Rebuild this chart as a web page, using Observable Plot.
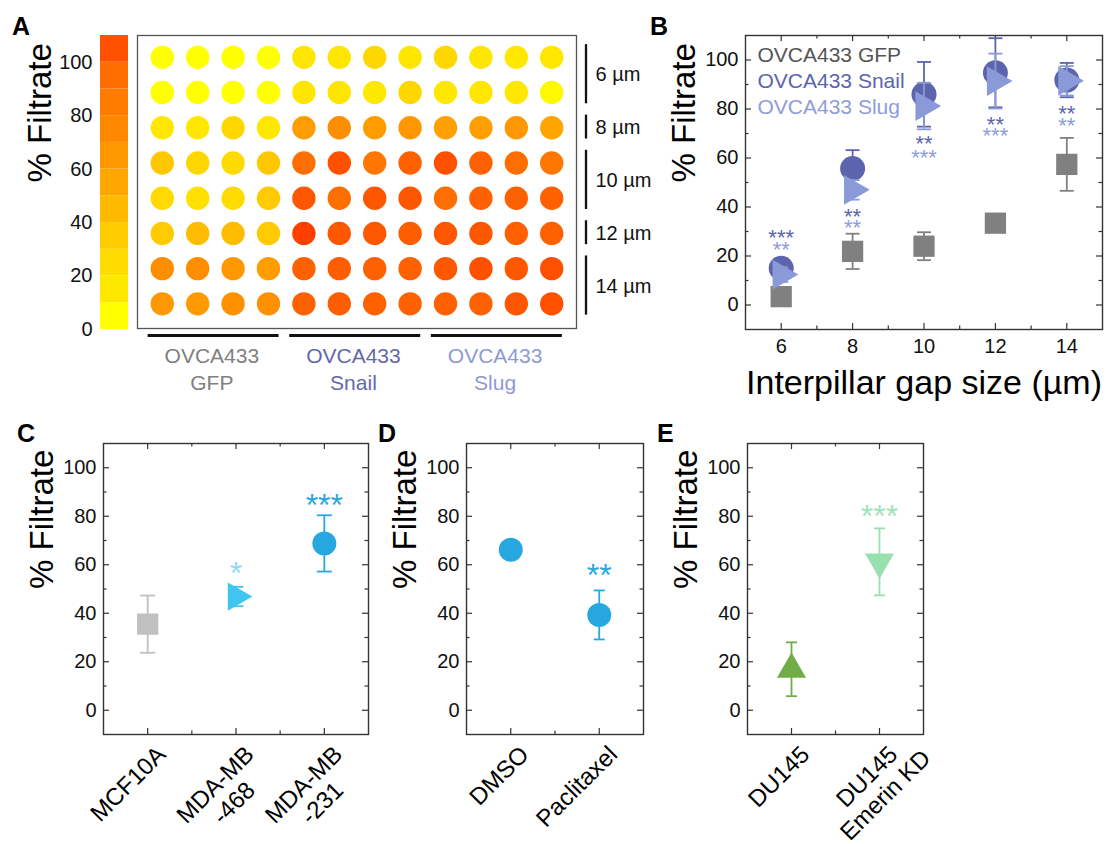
<!DOCTYPE html>
<html><head><meta charset="utf-8">
<script src="https://cdn.jsdelivr.net/npm/d3@7"></script>
<script src="https://cdn.jsdelivr.net/npm/@observablehq/plot@0.6"></script>
<style>
body{margin:0;background:#fff;}
#fig{position:relative;width:1114px;height:844px;overflow:hidden;font-family:"Liberation Sans",Arial,sans-serif;}
#fig > svg{position:absolute;left:0;top:0;}
.plabel{position:absolute;font-weight:bold;font-size:25px;line-height:25px;color:#000;}
</style></head><body><div id="fig"></div>
<script>
// ================= DATA =================
// Panel A – colour bar
const colorbarTicks = [0, 20, 40, 60, 80, 100];
const colorbarBands = [0, 10, 20, 30, 40, 50, 60, 70, 80, 90, 100];
// Panel A – plate (rows top→bottom, 12 wells each: 4 GFP, 4 Snail, 4 Slug), % filtrate
const wellFiltrate = [
  [3, 4, 3, 4, 17, 17, 28, 17, 28, 17, 15, 16],
  [4, 5, 4, 5, 17, 17, 15, 28, 16, 16, 16, 8],
  [16, 16, 28, 16, 62, 72, 62, 65, 60, 60, 65, 56],
  [38, 28, 27, 38, 94, 105, 88, 99, 105, 99, 94, 88],
  [27, 22, 25, 36, 103, 94, 103, 103, 94, 99, 99, 99],
  [36, 44, 44, 36, 111, 103, 102, 100, 103, 103, 99, 99],
  [72, 72, 65, 62, 99, 100, 99, 99, 103, 105, 103, 105],
  [65, 64, 70, 70, 99, 100, 99, 99, 99, 99, 103, 105]
];
const gapGroupLabels = ["6 µm", "8 µm", "10 µm", "12 µm", "14 µm"];
const gapGroupFirstRow = [1, 3, 4, 6, 7];
const gapGroupLastRow = [2, 3, 5, 6, 8];
const plateGroupLabels = ["OVCA433\nGFP", "OVCA433\nSnail", "OVCA433\nSlug"];
const plateGroupFirstCol = [1, 5, 9];
const plateGroupLastCol = [4, 8, 12];

// Panel B
const gapSizes = [6, 8, 10, 12, 14];
const seriesNames = ["OVCA433 GFP", "OVCA433 Snail", "OVCA433 Slug"];
const gfpMean = [3.4, 21.9, 24.0, 33.4, 57.4];
const gfpErr = [2.0, 7.2, 5.7, 3.0, 10.8];
const snailMean = [15.0, 55.7, 86.0, 94.8, 91.8];
const snailErr = [4.0, 7.5, 13.2, 14.1, 7.0];
const slugMean = [12.4, 47.0, 81.2, 91.4, 91.5];
const slugErr = [3.0, 4.0, 9.5, 11.2, 6.0];
const snailStars = ["***", "**", "**", "**", "**"];
const snailStarAt = [29.5, 38.3, 68.0, 76.0, 80.2];
const slugStars = ["**", "**", "***", "***", "**"];
const slugStarAt = [25.0, 33.8, 62.5, 71.3, 75.4];

// Panel C
const cCells = ["MCF10A", "MDA-MB\n-468", "MDA-MB\n-231"];
const cMean = [35.5, 46.9, 68.8];
const cErr = [11.8, 4.0, 11.6];
const cStars = ["", "*", "***"];
const cStarAt = [null, 59.6, 87.7];

// Panel D
const dTreat = ["DMSO", "Paclitaxel"];
const dMean = [66.2, 39.3];
const dErr = [1.5, 10.1];
const dStars = ["", "**"];
const dStarAt = [null, 58.9];

// Panel E
const eCells = ["DU145", "DU145\nEmerin KD"];
const eMean = [16.9, 61.2];
const eErr = [11.1, 13.8];
const eStars = ["", "***"];
const eStarAt = [null, 83.2];

const yMajor = [0, 20, 40, 60, 80, 100];
const yMinor = [10, 30, 50, 70, 90];

// ================= STYLE =================
const FONT = '"Liberation Sans", Arial, Helvetica, sans-serif';
const colorScale = {
  type: "linear",
  domain: [5, 15, 25, 35, 45, 55, 65, 75, 85, 95, 105, 115],
  range: ["#ffff00","#ffe800","#ffdc00","#ffcc00","#ffba00","#ffa600","#ff9800","#ff8800","#ff7c00","#ff6c00","#ff5000","#ff3300"],
  interpolate: "rgb"
};
const fig = document.getElementById("fig");

const capSymbol = {draw(ctx, size) { const w = Math.sqrt(size / Math.PI); ctx.moveTo(-w, 0); ctx.lineTo(w, 0); }};
function tri(dir) {
  return {draw(ctx, size) {
    const h = Math.sqrt(size / (3 * Math.sqrt(3))), s = Math.sqrt(3) * h;
    if (dir === "up") { ctx.moveTo(0, -2*h); ctx.lineTo(s, h); ctx.lineTo(-s, h); }
    else if (dir === "down") { ctx.moveTo(0, 2*h); ctx.lineTo(-s, -h); ctx.lineTo(s, -h); }
    else { ctx.moveTo(2*h, 0); ctx.lineTo(-h, s); ctx.lineTo(-h, -s); }
    ctx.closePath();
  }};
}

function plotAt(frame, opts) {
  const svg = Plot.plot({
    width: 1114, height: 844,
    marginLeft: frame.l, marginRight: 1114 - frame.r, marginTop: frame.t, marginBottom: 844 - frame.b,
    style: {fontFamily: FONT, background: "transparent", color: "#111", overflow: "visible"},
    ...opts
  });
  fig.append(svg);
  return svg;
}

function boxTicks(frame, xMajor, xMinor) {
  const fw = frame.r - frame.l, fh = frame.b - frame.t, L = 6, l = 3.5;
  const st = {stroke: "#333", strokeWidth: 1.2};
  return [
    Plot.tickY(yMajor, {y: d => d, insetRight: fw - L, ...st}),
    Plot.tickY(yMajor, {y: d => d, insetLeft: fw - L, ...st}),
    Plot.tickY(yMinor, {y: d => d, insetRight: fw - l, ...st}),
    Plot.tickY(yMinor, {y: d => d, insetLeft: fw - l, ...st}),
    Plot.tickX(xMajor, {x: d => d, insetTop: fh - L, ...st}),
    Plot.tickX(xMajor, {x: d => d, insetBottom: fh - L, ...st}),
    Plot.tickX(xMinor, {x: d => d, insetTop: fh - l, ...st}),
    Plot.tickX(xMinor, {x: d => d, insetBottom: fh - l, ...st})
  ];
}

function errorMarks(xs, means, errs, color, capR) {
  const pts = xs.map((x, i) => ({x, lo: means[i] - errs[i], hi: means[i] + errs[i]}));
  const st = {stroke: color, strokeWidth: 1.8};
  return [
    Plot.ruleX(pts, {x: "x", y1: "lo", y2: "hi", ...st}),
    Plot.dot(pts, {x: "x", y: "lo", symbol: capSymbol, r: capR, fill: "none", ...st}),
    Plot.dot(pts, {x: "x", y: "hi", symbol: capSymbol, r: capR, fill: "none", ...st})
  ];
}

function markerMarks(xs, means, symbol, r, color) {
  const pts = xs.map((x, i) => ({x, y: means[i]}));
  return Plot.dot(pts, {x: "x", y: "y", symbol, r, fill: color, stroke: "none"});
}

function starMarks(xs, stars, at, color, size) {
  const pts = xs.map((x, i) => ({x, y: at[i], t: stars[i]})).filter(d => d.t);
  return Plot.text(pts, {x: "x", y: "y", text: "t", fill: color, fontSize: size, dy: 0.26 * size, lineAnchor: "middle"});
}

function yTitle(dx) {
  return Plot.text(["% Filtrate"], {frameAnchor: "left", dx, rotate: -90, fontSize: 33, lineAnchor: "middle", fill: "#000"});
}

// ================= PANEL A =================
const barFrame = {l: 100, r: 128, t: 35, b: 329};
plotAt(barFrame, {
  x: {axis: null, domain: [0, 1]},
  y: {domain: [0, 110], axis: null},
  color: colorScale,
  marks: [
    Plot.rect(colorbarBands, {y1: d => d, y2: d => d + 10, fill: d => d + 5}),
    Plot.axisY({ticks: colorbarTicks, tickSize: 0, tickPadding: 8, fontSize: 20, label: null}),
    yTitle(-60)
  ]
});

const plateFrame = {l: 137, r: 576, t: 35, b: 328};
const colDomain = [0.30, 12.70], rowDomain = [8.70, 0.38];
const wells = wellFiltrate.flatMap((row, r) => row.map((v, c) => ({row: r + 1, col: c + 1, value: v})));
const gapGroups = gapGroupLabels.map((label, i) => ({label, first: gapGroupFirstRow[i], last: gapGroupLastRow[i]}));
const plateGroups = plateGroupLabels.map((label, i) => ({label, first: plateGroupFirstCol[i], last: plateGroupLastCol[i]}));
const plateGroupColors = ["#808080", "#6468aa", "#8e9ad4"];
plotAt(plateFrame, {
  x: {domain: colDomain, axis: null},
  y: {domain: rowDomain, axis: null},
  color: colorScale,
  marks: [
    Plot.frame({stroke: "#555", strokeWidth: 1.3}),
    Plot.dot(wells, {x: "col", y: "row", r: 11.7, fill: "value", stroke: "none"}),
    Plot.ruleX(gapGroups, {x: () => colDomain[1], dx: 9.5, y1: d => d.first - 0.36, y2: d => d.last + 0.32, stroke: "#111", strokeWidth: 2.3}),
    Plot.text(gapGroups, {x: () => colDomain[1], dx: 19, y: d => (d.first + d.last) / 2, text: "label", textAnchor: "start", fontSize: 20, fill: "#111"}),
    Plot.ruleY(plateGroups, {y: () => rowDomain[0], dy: 7, x1: d => d.first - 0.4, x2: d => d.last + 0.3, stroke: "#111", strokeWidth: 3}),
    ...plateGroups.map((g, i) => Plot.text([g], {x: d => (d.first + d.last) / 2 - 0.1, frameAnchor: "bottom", dy: 16, lineAnchor: "top", lineHeight: 1.27, text: "label", fontSize: 21, fill: plateGroupColors[i]}))
  ]
});

// ================= PANEL B =================
const bFrame = {l: 745, r: 1102, t: 35, b: 329};
const cGFP = "#808080", cSnail = "#5c64ae", cSlug = "#8a9ad8";
plotAt(bFrame, {
  x: {domain: [5, 15], axis: null},
  y: {domain: [-10, 110], axis: null},
  marks: [
    Plot.frame({stroke: "#333", strokeWidth: 1.4}),
    ...boxTicks(bFrame, gapSizes, [7, 9, 11, 13]),
    Plot.axisY({ticks: yMajor, tickSize: 0, tickPadding: 7, fontSize: 20, label: null}),
    Plot.axisX({ticks: gapSizes, tickSize: 0, tickPadding: 9, fontSize: 20, label: null}),
    yTitle(-61),
    Plot.text(["Interpillar gap size (µm)"], {frameAnchor: "bottom", dy: 54, fontSize: 34, lineAnchor: "middle", fill: "#000"}),
    Plot.text([seriesNames[0]], {frameAnchor: "top-left", dx: 12, dy: 20, fontSize: 21, fill: "#555", lineAnchor: "middle"}),
    Plot.text([seriesNames[1]], {frameAnchor: "top-left", dx: 12, dy: 46, fontSize: 21, fill: cSnail, lineAnchor: "middle"}),
    Plot.text([seriesNames[2]], {frameAnchor: "top-left", dx: 12, dy: 72, fontSize: 21, fill: "#8e9dd8", lineAnchor: "middle"}),
    ...errorMarks(gapSizes, gfpMean, gfpErr, cGFP, 7),
    markerMarks(gapSizes, gfpMean, "square", 12, cGFP),
    ...errorMarks(gapSizes, snailMean, snailErr, cSnail, 7),
    markerMarks(gapSizes, snailMean, "circle", 12.5, cSnail),
    ...errorMarks(gapSizes, slugMean, slugErr, cSlug, 7),
    markerMarks(gapSizes, slugMean, tri("right"), 11, cSlug),
    starMarks(gapSizes, snailStars, snailStarAt, cSnail, 22),
    starMarks(gapSizes, slugStars, slugStarAt, "#8e9dd8", 22)
  ]
});

// ================= PANELS C, D, E =================
const LABEL_SIZE = 24;
const mctx = document.createElement("canvas").getContext("2d");
mctx.font = LABEL_SIZE + 'px "Liberation Sans"';
function categoryPanel(frame, cats, mean, err, symbols, radii, colors, stars, starAt, starColors, capR) {
  const idx = d3.range(cats.length);
  const xs = idx.map(i => i + 1);
  const minor = xs.slice(0, -1).map(x => x + 0.5);
  const LX = 14, LY = 16, LH = 26, a = Math.SQRT1_2;
  const marks = [
    Plot.frame({stroke: "#333", strokeWidth: 1.4}),
    ...boxTicks(frame, xs, minor),
    Plot.axisY({ticks: yMajor, tickSize: 0, tickPadding: 7, fontSize: 20, label: null}),
    yTitle(-61),
    Plot.text(idx, {x: i => i + 1, frameAnchor: "bottom", text: i => cats[i].split("\n")[0], rotate: -45, textAnchor: "end", lineAnchor: "middle", dx: LX, dy: LY, fontSize: LABEL_SIZE, fill: "#000"})
  ];
  idx.forEach(i => {
    const parts = cats[i].split("\n");
    if (parts.length > 1) {
      const w1 = mctx.measureText(parts[0]).width;
      marks.push(Plot.text([i], {x: j => j + 1, frameAnchor: "bottom", text: () => parts[1], rotate: -45, textAnchor: "middle", lineAnchor: "middle",
        dx: LX - a * w1 / 2 + a * LH, dy: LY + a * w1 / 2 + a * LH, fontSize: LABEL_SIZE, fill: "#000"}));
    }
  });
  idx.forEach(i => {
    marks.push(...errorMarks([xs[i]], [mean[i]], [err[i]], colors[i], capR));
    marks.push(markerMarks([xs[i]], [mean[i]], symbols[i], radii[i], colors[i]));
    if (stars[i]) marks.push(starMarks([xs[i]], [stars[i]], [starAt[i]], starColors[i], 32));
  });
  plotAt(frame, {
    x: {domain: [0.5, cats.length + 0.5], axis: null},
    y: {domain: [-10, 110], axis: null},
    marks
  });
}

categoryPanel({l: 103, r: 368, t: 443, b: 734}, cCells, cMean, cErr,
  ["square", tri("right"), "circle"], [12, 10.5, 12],
  ["#c0c0c0", "#40c4f0", "#27a7e0"], cStars, cStarAt, ["", "#8dd9f6", "#27a7e0"], 7.5);
categoryPanel({l: 466, r: 643, t: 443, b: 734}, dTreat, dMean, dErr,
  ["circle", "circle"], [12, 12],
  ["#27a7e0", "#27a7e0"], dStars, dStarAt, ["", "#27a7e0"], 5.5);
categoryPanel({l: 747, r: 923, t: 443, b: 734}, eCells, eMean, eErr,
  [tri("up"), tri("down")], [10.8, 10.8],
  ["#70ad47", "#98e0b0"], eStars, eStarAt, ["", "#9fe2b8"], 5.5);

// panel letters
[["A", 12, 14], ["B", 650, 14], ["C", 17, 421], ["D", 378, 421], ["E", 657, 421]].forEach(([t, x, y]) => {
  const d = document.createElement("div");
  d.className = "plabel"; d.textContent = t; d.style.left = x + "px"; d.style.top = y + "px";
  fig.append(d);
});
</script>
</body></html>
